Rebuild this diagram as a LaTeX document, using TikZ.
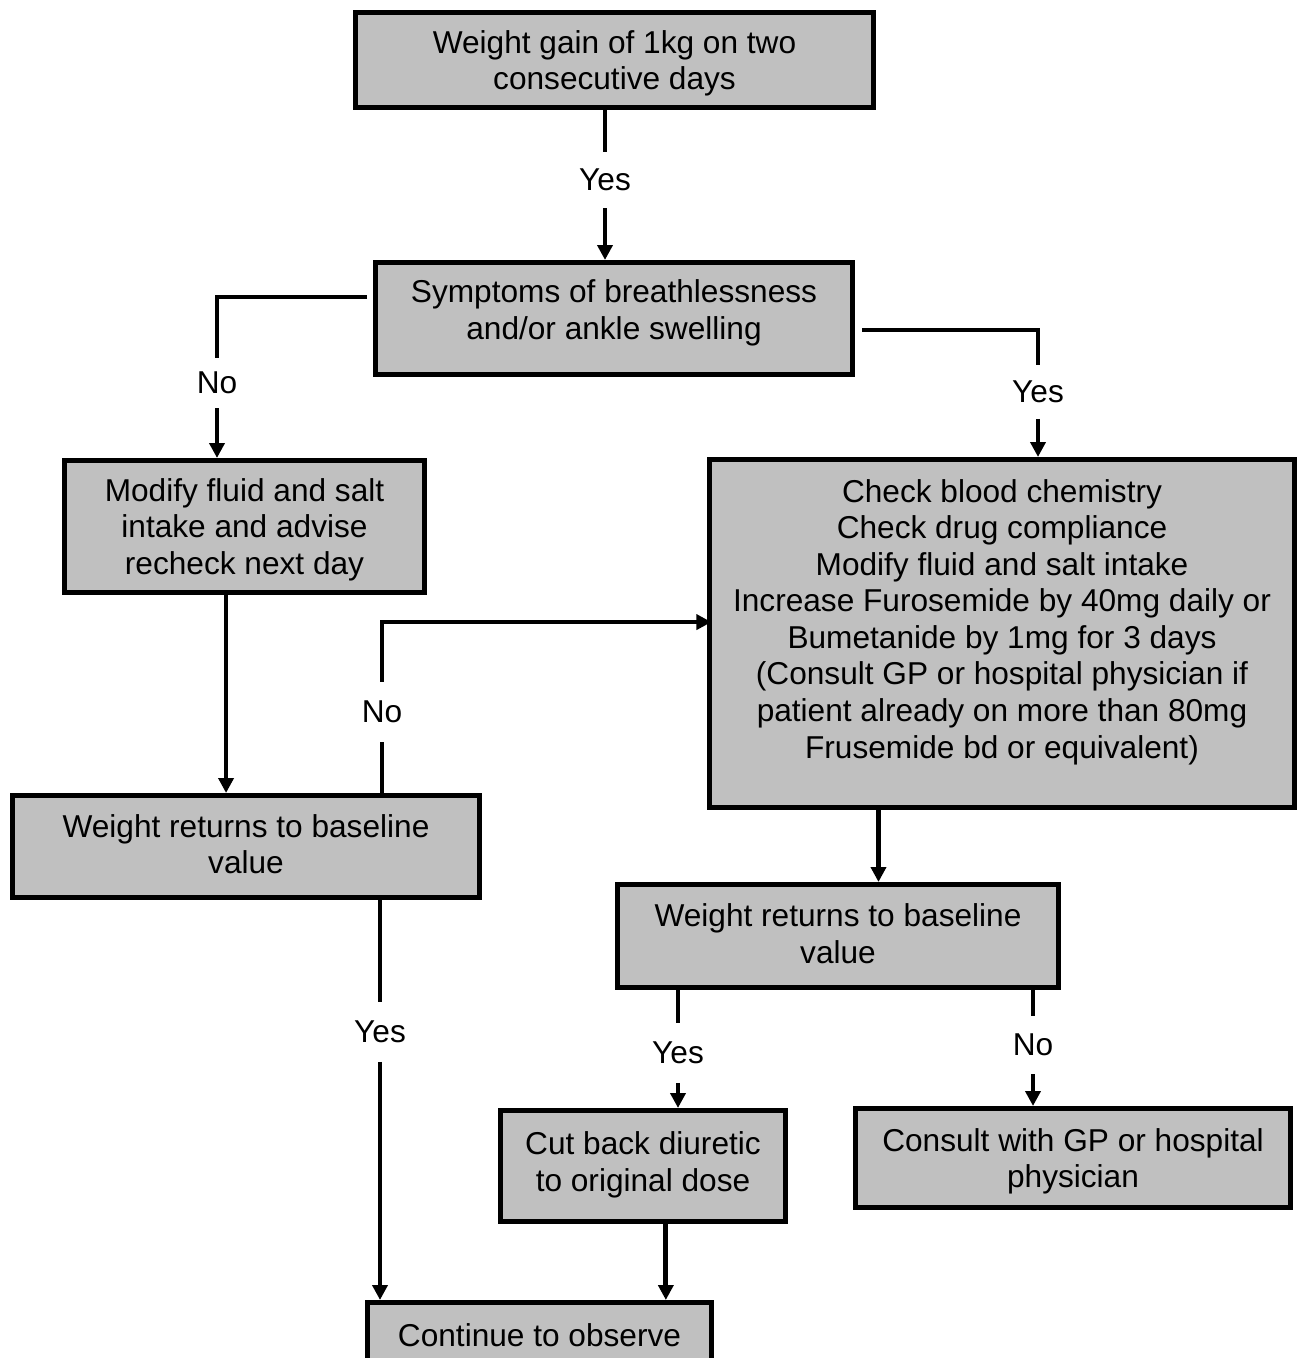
\documentclass[tikz,border=0pt]{standalone}
\usepackage{fontspec}
\setmainfont{Liberation Sans}
\usetikzlibrary{arrows.meta}
\definecolor{boxgray}{RGB}{192,192,192}
\tikzset{
  txt/.style={font=\fontsize{18pt}{20.8pt}\selectfont, align=center},
  box/.style={draw=black, fill=boxgray, line width=3.1pt, inner sep=0pt, txt, text depth=0pt},
  wh/.style 2 args={minimum width=#1*0.02cm, minimum height=#2*0.02cm},
  lbl/.style={txt, inner sep=0pt, minimum height=1.12cm},
  conn/.style={draw=black, line width=2.7pt},
  arr/.style={conn, -{Triangle[width=8.5pt,length=8.5pt]}}
}
\begin{document}
\begin{tikzpicture}[x=0.02cm,y=-0.02cm]
\useasboundingbox (0,0) rectangle (1300,1358);

% boxes
\node[box, wh={517.6}{94.6}] (gain) at (614.5,60) {Weight gain of 1kg on two\\consecutive days};
\node[box, wh={476.6}{111.6}] (sym) at (614,318.5) {};
\node[txt] (symt) at (614,313) {Symptoms of breathlessness\\and/or ankle swelling};
\node[box, wh={359.6}{131.6}] (mod) at (244.5,526.5) {Modify fluid and salt\\intake and advise\\recheck next day};
\node[box, wh={584.6}{347.6}] (chk) at (1002,633.5) {};
\node[txt] (chkt) at (1002,622) {Check blood chemistry\\Check drug compliance\\Modify fluid and salt intake\\Increase Furosemide by 40mg daily or\\Bumetanide by 1mg for 3 days\\(Consult GP or hospital physician if\\patient already on more than 80mg\\Frusemide bd or equivalent)};
\node[box, wh={466.6}{101.6}, text depth=3pt] (wrl) at (246,846.5) {Weight returns to baseline\\value};
\node[box, wh={440.6}{102.6}, text depth=3pt] (wrr) at (838,936) {Weight returns to baseline\\value};
\node[box, wh={284.6}{110.6}, text depth=5pt] (cut) at (643,1166) {Cut back diuretic\\to original dose};
\node[box, wh={434.6}{98.6}] (con) at (1073,1158) {Consult with GP or hospital\\physician};
\node[box, wh={343.6}{70.6}, text depth=3pt] (obs) at (539.5,1338) {Continue to observe};

% branch labels
\node[lbl] (yes1) at (605,180) {Yes};
\node[lbl, minimum height=1.0cm] (no1) at (217,383) {No};
\node[lbl, minimum height=1.06cm] (yes2) at (1038,392) {Yes};
\node[lbl, minimum height=1.2cm] (no2) at (382,712) {No};
\node[lbl, minimum height=1.18cm] (yes3) at (380,1032) {Yes};
\node[lbl, minimum height=1.18cm] (yes4) at (678,1053) {Yes};
\node[lbl, minimum height=1.16cm] (no3) at (1033,1045) {No};

% connectors
\draw[conn] (yes1 |- gain.south) -- (yes1);
\draw[arr] (yes1) -- (yes1 |- sym.north);

\draw[conn] ([xshift=-3.4pt,yshift=12.2pt]sym.west) -| (no1);
\draw[arr] (no1) -- (no1 |- mod.north);

\draw[conn] ([xshift=4pt,yshift=-6.5pt]sym.east) -| (yes2);
\draw[arr] (yes2) -- (yes2 |- chk.north);

\draw[arr] ([xshift=-10.5pt]mod.south) -- ([xshift=-10.5pt]mod.south |- wrl.north);

\draw[conn] (no2 |- wrl.north) -- (no2);
\draw[arr] (no2) |- ([xshift=2.5pt,yshift=6.5pt]chk.west);

\draw[conn] (yes3 |- wrl.south) -- (yes3);
\draw[arr] (yes3) -- (yes3 |- obs.north);

\draw[arr] ([xshift=-70.3pt]chk.south) -- ([xshift=-70.3pt]chk.south |- wrr.north);

\draw[conn] (yes4 |- wrr.south) -- (yes4);
\draw[arr] (yes4) -- (yes4 |- cut.north);

\draw[conn] (no3 |- wrr.south) -- (no3);
\draw[arr] (no3) -- (no3 |- con.north);

\draw[arr] ([xshift=13pt]cut.south) -- ([xshift=13pt]cut.south |- obs.north);
\end{tikzpicture}
\end{document}
